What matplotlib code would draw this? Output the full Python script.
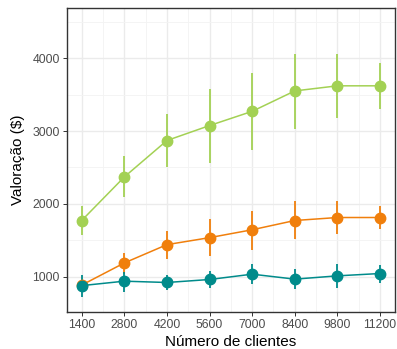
import numpy as np
import matplotlib
matplotlib.use("Agg")
from matplotlib import pyplot as plt
from matplotlib.ticker import MultipleLocator

plt.rcParams['font.family'] = ['Liberation Sans', 'DejaVu Sans']

# number of clients
clients = [1400, 2800, 4200, 5600, 7000, 8400, 9800, 11200]

# green series
green_mean = [1773, 2370, 2870, 3075, 3270, 3550, 3620, 3620]
green_lo = [1578, 2091, 2500, 2561, 2738, 3025, 3175, 3297]
green_hi = [1969, 2660, 3237, 3578, 3797, 4056, 4061, 3933]

# orange series
orange_mean = [887, 1191, 1442, 1538, 1646, 1773, 1814, 1814]
orange_lo = [840, 1046, 1251, 1286, 1374, 1524, 1592, 1660]
orange_hi = [940, 1333, 1623, 1797, 1900, 2037, 2037, 1969]

# teal series
teal_mean = [880, 941, 923, 964, 1037, 969, 1014, 1046]
teal_lo = [727, 795, 818, 841, 896, 828, 850, 918]
teal_hi = [1023, 1068, 1032, 1082, 1182, 1114, 1173, 1169]

fig = plt.figure(figsize=(3.97, 3.49), dpi=100)
ax = fig.add_axes([0.168, 0.107, 0.827, 0.869])

series = [
    (green_mean, green_lo, green_hi, '#A3D154'),
    (orange_mean, orange_lo, orange_hi, '#F07F0C'),
    (teal_mean, teal_lo, teal_hi, '#008B8B'),
]
for mean, lo, hi, col in series:
    m = np.array(mean)
    yerr = [m - np.array(lo), np.array(hi) - m]
    ax.errorbar(clients, m, yerr=yerr, color=col, lw=1.1, elinewidth=1.3,
                marker='o', markersize=7.5, capsize=0, zorder=3)

ax.set_xlim(908, 11692)
ax.set_ylim(523, 4682)
ax.set_xticks(clients)
ax.xaxis.set_minor_locator(MultipleLocator(1400))
ax.xaxis.set_minor_locator(plt.FixedLocator([700 + 1400 * i for i in range(10)]))
ax.yaxis.set_major_locator(MultipleLocator(1000))
ax.yaxis.set_minor_locator(plt.FixedLocator([500, 1500, 2500, 3500, 4500]))

ax.grid(which='major', color='#EBEBEB', lw=1.0, zorder=0)
ax.grid(which='minor', color='#F3F3F3', lw=0.6, zorder=0)
ax.set_axisbelow(True)

ax.tick_params(which='major', length=3, width=0.7, color='#333333',
               labelsize=8.8, labelcolor='#4D4D4D', pad=2)
ax.tick_params(which='minor', length=0)
for s in ax.spines.values():
    s.set_color('#333333')
    s.set_linewidth(1.0)

ax.set_xlabel('Número de clientes', fontsize=11, labelpad=3)
ax.set_ylabel('Valoração ($)', fontsize=11, labelpad=5)

fig.savefig('out.png', dpi=100)
